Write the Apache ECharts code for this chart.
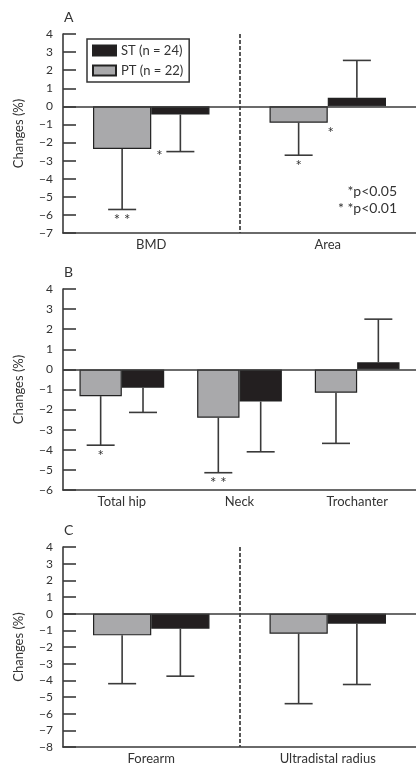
<!DOCTYPE html>
<html><head><meta charset="utf-8">
<script src="https://cdn.jsdelivr.net/npm/echarts@6/dist/echarts.min.js"></script>
<style>html,body{margin:0;padding:0;background:#fff}#c{width:416px;height:765px}</style>
</head><body><div id="c"></div>
<script>
// Panel A
const catA = ['BMD', 'Area'];
const ptA = [-2.35, -0.9];
const ptErrA = [3.35, 1.8];
const stA = [-0.45, 0.48];
const stErrA = [2.05, 2.06];
const ptSigA = ['* *', '*'];
const ptSideA = ['', '*'];
const stSigA = ['', ''];
const stSideA = ['*', ''];
const yTicksA = [-7, 4];

// Panel B
const catB = ['Total hip', 'Neck', 'Trochanter'];
const ptB = [-1.33, -2.4, -1.16];
const ptErrB = [2.44, 2.74, 2.52];
const stB = [-0.91, -1.6, 0.35];
const stErrB = [1.23, 2.5, 2.15];
const ptSigB = ['*', '* *', ''];
const ptSideB = ['', '', ''];
const stSigB = ['', '', ''];
const stSideB = ['', '', ''];
const yTicksB = [-6, 4];

// Panel C
const catC = ['Forearm', 'Ultradistal radius'];
const ptC = [-1.3, -1.2];
const ptErrC = [2.9, 4.2];
const stC = [-0.9, -0.6];
const stErrC = [2.85, 3.65];
const ptSigC = ['', ''];
const ptSideC = ['', ''];
const stSigC = ['', ''];
const stSideC = ['', ''];
const yTicksC = [-8, 4];

const panelLetters = ['A', 'B', 'C'];
const legendNames = {ST: 'ST (n = 24)', PT: 'PT (n = 22)'};
const sigNotes = ['*p<0.05', '* *p<0.01'];

const PT_COLOR = '#a9a9ab', ST_COLOR = '#231f20', LINE = '#3a3a3a', TXT = '#333';
const FONT = 'Lato, "Open Sans", sans-serif';

const panels = [
  {cat: catA, pt: ptA, ptErr: ptErrA, st: stA, stErr: stErrA, ptSig: ptSigA, ptSide: ptSideA, stSig: stSigA, stSide: stSideA, y: yTicksA, gap: 0.34, divider: true,
   grid: {left: 63, right: 0, top: 34, bottom: 532}},
  {cat: catB, pt: ptB, ptErr: ptErrB, st: stB, stErr: stErrB, ptSig: ptSigB, ptSide: ptSideB, stSig: stSigB, stSide: stSideB, y: yTicksB, gap: 0.28, divider: false,
   grid: {left: 63, right: 0, top: 289, bottom: 275}},
  {cat: catC, pt: ptC, ptErr: ptErrC, st: stC, stErr: stErrC, ptSig: ptSigC, ptSide: ptSideC, stSig: stSigC, stSide: stSideC, y: yTicksC, gap: 0.34, divider: true,
   grid: {left: 63, right: 0, top: 547, bottom: 18}}
];

function errRender(gap, isPT, sigArr, sideArr) {
  return function (params, api) {
    const idx = api.value(0), mean = api.value(1), err = api.value(2);
    const band = api.size([1, 0])[0];
    const barW = band * (1 - gap) / 2;
    const base = api.coord([idx, mean]);
    const x = base[0] + (isPT ? -barW / 2 : barW / 2);
    const down = mean < 0;
    const endV = mean + (down ? -err : err);
    const pe = api.coord([idx, endV]);
    const yBar = base[1], yEnd = pe[1];
    const cap = 14;
    const st = {stroke: LINE, lineWidth: 1.6};
    const children = [
      {type: 'line', shape: {x1: x, y1: yBar, x2: x, y2: yEnd}, style: st},
      {type: 'line', shape: {x1: x - cap, y1: yEnd, x2: x + cap, y2: yEnd}, style: st}
    ];
    const f = '15px ' + FONT;
    const sig = sigArr[params.dataIndex];
    if (sig) {
      children.push({type: 'text', x: x, y: down ? yEnd + 3 : yEnd - 16,
        style: {text: sig, fill: TXT, font: f, align: 'center', verticalAlign: 'top'}});
    }
    const side = sideArr[params.dataIndex];
    if (side) {
      if (isPT) {
        children.push({type: 'text', x: x + barW / 2 + 3, y: yBar + 3,
          style: {text: side, fill: TXT, font: f, align: 'center', verticalAlign: 'top'}});
      } else {
        children.push({type: 'text', x: x - cap - 7, y: yEnd - 3,
          style: {text: side, fill: TXT, font: f, align: 'center', verticalAlign: 'top'}});
      }
    }
    return {type: 'group', children: children};
  };
}

const grids = [], xAxes = [], yAxes = [], series = [], graphics = [];
panels.forEach((p, i) => {
  grids.push(p.grid);
  xAxes.push({
    type: 'category', gridIndex: i, data: p.cat,
    axisLine: {onZero: false, lineStyle: {color: LINE, width: 1.6}},
    axisTick: {alignWithLabel: true, inside: true, length: 10, lineStyle: {color: LINE, width: 1.6}},
    axisLabel: {color: TXT, fontSize: 13, fontFamily: FONT, margin: 5},
    splitLine: {show: p.divider, showMinLine: false, showMaxLine: false,
      lineStyle: {type: [4, 2], color: '#222', width: 1.5}}
  });
  yAxes.push({
    type: 'value', gridIndex: i, min: p.y[0], max: p.y[1], interval: 1,
    name: 'Changes (%)', nameLocation: 'middle', nameGap: 38,
    nameTextStyle: {color: TXT, fontSize: 13, fontFamily: FONT},
    axisLine: {show: true, lineStyle: {color: LINE, width: 1.6}},
    axisTick: {show: true, inside: true, length: 13, lineStyle: {color: LINE, width: 1.6}},
    axisLabel: {color: TXT, fontSize: 12, fontFamily: FONT, margin: 10,
      formatter: v => String(v).replace('-', '\u2212')},
    splitLine: {show: false}
  });
  const gapStr = Math.round(p.gap * 100) + '%';
  series.push({
    name: 'PT', type: 'bar', xAxisIndex: i, yAxisIndex: i, data: p.pt,
    barGap: '0%', barCategoryGap: gapStr,
    itemStyle: {color: PT_COLOR, borderColor: '#222', borderWidth: 1.2},
    markLine: {silent: true, symbol: 'none', label: {show: false},
      lineStyle: {color: LINE, type: 'solid', width: 1.6}, data: [{yAxis: 0}]}
  });
  series.push({
    name: 'ST', type: 'bar', xAxisIndex: i, yAxisIndex: i, data: p.st,
    barGap: '0%', barCategoryGap: gapStr,
    itemStyle: {color: ST_COLOR, borderColor: '#222', borderWidth: 1.2}
  });
  series.push({
    type: 'custom', xAxisIndex: i, yAxisIndex: i, z: 5, silent: true,
    renderItem: errRender(p.gap, true, p.ptSig, p.ptSide),
    data: p.pt.map((v, k) => [k, v, p.ptErr[k]])
  });
  series.push({
    type: 'custom', xAxisIndex: i, yAxisIndex: i, z: 5, silent: true,
    renderItem: errRender(p.gap, false, p.stSig, p.stSide),
    data: p.st.map((v, k) => [k, v, p.stErr[k]])
  });
  graphics.push({type: 'text', left: 64, top: p.grid.top - 24,
    style: {text: panelLetters[i], fill: TXT, font: '14px ' + FONT}});
});

graphics.push({type: 'text', right: 19, top: 184,
  style: {text: sigNotes[0], fill: TXT, font: '14px ' + FONT, textAlign: 'right'}});
graphics.push({type: 'text', right: 19, top: 201,
  style: {text: sigNotes[1], fill: TXT, font: '14px ' + FONT, textAlign: 'right'}});

const chart = echarts.init(document.getElementById('c'), null, {renderer: 'canvas'});
chart.setOption({
  animation: false,
  backgroundColor: '#fff',
  grid: grids, xAxis: xAxes, yAxis: yAxes, series: series, graphic: graphics,
  legend: {
    data: [{name: 'ST', icon: 'rect'}, {name: 'PT', icon: 'rect'}], orient: 'vertical', left: 87, top: 39,
    itemWidth: 23, itemHeight: 10, itemGap: 7,
    padding: [5, 6, 5, 5], borderColor: '#333', borderWidth: 1.5,
    formatter: n => legendNames[n],
    textStyle: {color: TXT, fontSize: 13, fontFamily: FONT}
  }
});
</script></body></html>
